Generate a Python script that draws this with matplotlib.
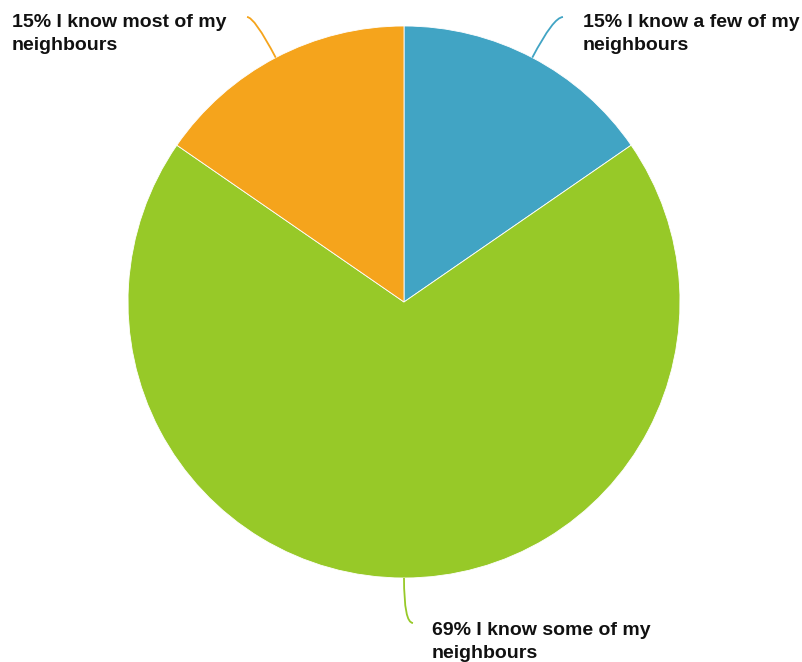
import matplotlib
matplotlib.use("Agg")
import matplotlib.pyplot as plt
import numpy as np
from matplotlib.path import Path
from matplotlib.patches import PathPatch

categories = ["I know a few of my neighbours", "I know some of my neighbours", "I know most of my neighbours"]
values = [2, 9, 2]
pct_labels = ["15%", "69%", "15%"]
colors = ["#41A4C4", "#97C928", "#F5A41C"]

W, H = 803, 662
fig = plt.figure(figsize=(W / 100, H / 100), dpi=100)
ax = fig.add_axes([0, 0, 1, 1])

cx, cy, R = 404, H - 302, 276
wedges, _ = ax.pie(values, colors=colors, startangle=90, counterclock=False,
                   center=(cx, cy), radius=R, frame=True,
                   wedgeprops=dict(edgecolor="white", linewidth=0.6))
ax.set_xlim(0, W)
ax.set_ylim(0, H)
ax.set_aspect("auto")
ax.axis("off")

# label layout (pixel coords, y from top)
ends = [(563, 17), (413, 623), (247, 17)]
text_pos = [(583, 14, "left"), (432, 622, "left"), (12, 14, "left")]

for w, (ex, ey), (tx, ty, ha), p, c, col in zip(wedges, ends, text_pos, pct_labels, categories, colors):
    mid = np.deg2rad((w.theta1 + w.theta2) / 2)
    sx, sy = cx + R * np.cos(mid), cy + R * np.sin(mid)
    ey_d = H - ey
    t = (ey_d - sy) / np.sin(mid)
    ctrl = (sx + t * np.cos(mid), sy + t * np.sin(mid))
    path = Path([(sx, sy), ctrl, (ex, ey_d)], [Path.MOVETO, Path.CURVE3, Path.CURVE3])
    ax.add_patch(PathPatch(path, fill=False, edgecolor=col, linewidth=1.3))
    words = c.split(" ")
    line1 = p + " " + " ".join(words[:-1])
    line2 = words[-1]
    ax.text(tx, H - ty, line1 + "\n" + line2, ha=ha, va="top",
            fontsize=14, fontweight="bold", family="Liberation Sans",
            color="#111111", linespacing=1.45)

fig.savefig("out.png", dpi=100)
